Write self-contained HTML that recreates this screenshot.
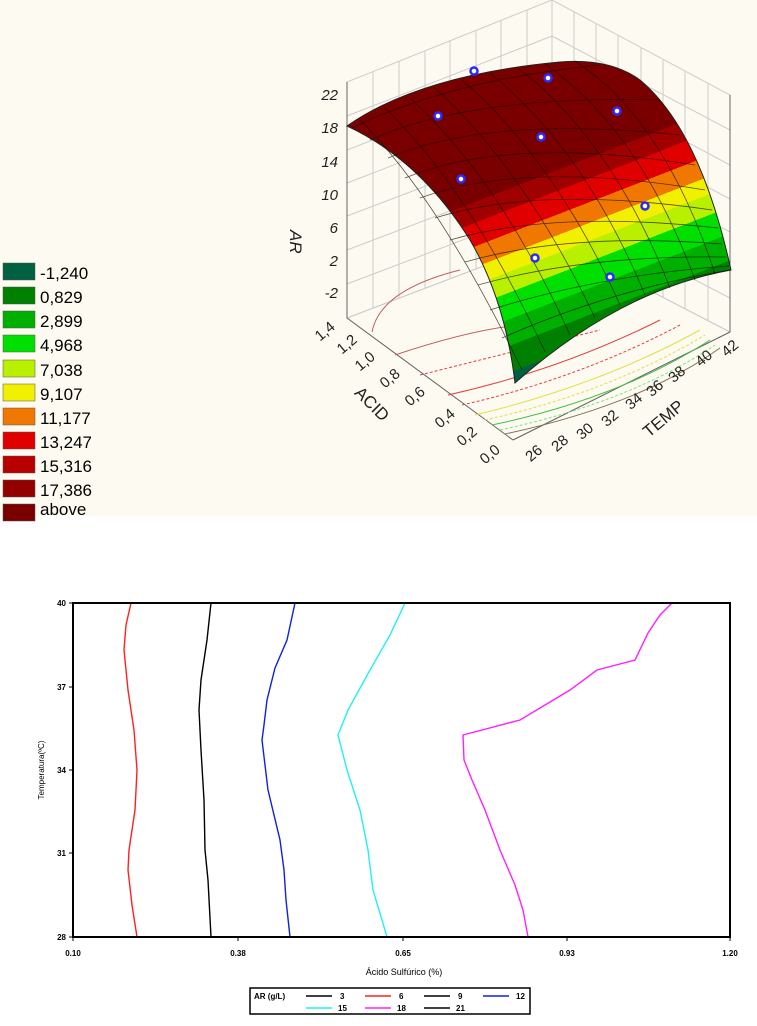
<!DOCTYPE html>
<html><head><meta charset="utf-8"><style>
html,body{margin:0;padding:0;background:#fff;}
body{width:757px;height:1026px;position:relative;overflow:hidden;font-family:"Liberation Sans",sans-serif;}
</style></head><body>
<svg width="757" height="1026" viewBox="0 0 757 1026" xmlns="http://www.w3.org/2000/svg" style="position:absolute;left:0;top:0">
<rect x="0" y="0" width="757" height="516" fill="#fdfbf1"/>
<g font-family="Liberation Sans, sans-serif" font-size="17" fill="#000">
<rect x="3" y="263" width="32" height="17" fill="#006040" stroke="#555" stroke-width="0.5"/><text x="40" y="279">-1,240</text>
<rect x="3" y="287" width="32" height="17" fill="#008000" stroke="#555" stroke-width="0.5"/><text x="40" y="303">0,829</text>
<rect x="3" y="311" width="32" height="17" fill="#00b000" stroke="#555" stroke-width="0.5"/><text x="40" y="327">2,899</text>
<rect x="3" y="335" width="32" height="17" fill="#00e000" stroke="#555" stroke-width="0.5"/><text x="40" y="351">4,968</text>
<rect x="3" y="360" width="32" height="17" fill="#b8f000" stroke="#555" stroke-width="0.5"/><text x="40" y="376">7,038</text>
<rect x="3" y="384" width="32" height="17" fill="#f0f000" stroke="#555" stroke-width="0.5"/><text x="40" y="400">9,107</text>
<rect x="3" y="408" width="32" height="17" fill="#f07800" stroke="#555" stroke-width="0.5"/><text x="40" y="424">11,177</text>
<rect x="3" y="432" width="32" height="17" fill="#e00000" stroke="#555" stroke-width="0.5"/><text x="40" y="448">13,247</text>
<rect x="3" y="456" width="32" height="17" fill="#b80000" stroke="#555" stroke-width="0.5"/><text x="40" y="472">15,316</text>
<rect x="3" y="480" width="32" height="17" fill="#940000" stroke="#555" stroke-width="0.5"/><text x="40" y="496">17,386</text>
<rect x="3" y="504" width="32" height="17" fill="#7a0000" stroke="#555" stroke-width="0.5"/><text x="40" y="515">above</text>
</g>
<g stroke="#ccc" stroke-width="1" fill="none">
<polygon points="347,82 552,0 552,240 347,318"/>
<polygon points="552,0 730,95 730,332 552,240"/>
<line x1="347" y1="116" x2="552" y2="36"/><line x1="347" y1="150" x2="552" y2="70"/><line x1="347" y1="183" x2="552" y2="104"/><line x1="347" y1="216" x2="552" y2="138"/><line x1="347" y1="250" x2="552" y2="172"/><line x1="347" y1="284" x2="552" y2="206"/>
<line x1="552" y1="36" x2="730" y2="130"/><line x1="552" y1="70" x2="730" y2="165"/><line x1="552" y1="104" x2="730" y2="199"/><line x1="552" y1="138" x2="730" y2="232"/><line x1="552" y1="172" x2="730" y2="265"/><line x1="552" y1="206" x2="730" y2="298"/>
<line x1="373" y1="72" x2="373" y2="308"/><line x1="399" y1="61" x2="399" y2="298"/><line x1="425" y1="51" x2="425" y2="288"/><line x1="450" y1="41" x2="450" y2="279"/><line x1="476" y1="31" x2="476" y2="269"/><line x1="501" y1="20" x2="501" y2="259"/><line x1="527" y1="10" x2="527" y2="250"/>
<line x1="574" y1="12" x2="574" y2="251"/><line x1="596" y1="24" x2="596" y2="263"/><line x1="618" y1="36" x2="618" y2="274"/><line x1="641" y1="48" x2="641" y2="286"/><line x1="663" y1="60" x2="663" y2="297"/><line x1="685" y1="72" x2="685" y2="309"/><line x1="708" y1="84" x2="708" y2="320"/>
<polygon points="347,318 552,240 730,332 513,440"/>
</g>
<g stroke="#666" stroke-width="1" fill="none"><line x1="347" y1="82" x2="347" y2="318"/><line x1="347" y1="318" x2="513" y2="440"/><line x1="513" y1="440" x2="730" y2="332"/><line x1="730" y1="95" x2="730" y2="332"/></g>
<g fill="none" stroke-width="1">
<path d="M372,332 Q380,290 460,270" stroke="#c06060"/>
<path d="M395,355 Q470,330 520,325" stroke="#c06060"/>
<path d="M420,375 Q520,350 600,330" stroke="#e04040" stroke-dasharray="3,2"/>
<path d="M448,395 Q560,370 660,320" stroke="#e04040"/>
<path d="M462,405 Q580,378 680,325" stroke="#e04040" stroke-dasharray="3,2"/>
<path d="M475,415 Q600,385 700,330" stroke="#e0e040"/>
<path d="M485,420 Q610,392 705,335" stroke="#e0e040" stroke-dasharray="3,2"/>
<path d="M492,425 Q620,398 710,340" stroke="#40c040"/>
<path d="M500,430 Q630,402 715,345" stroke="#80e080" stroke-dasharray="3,2"/>
<path d="M505,434 Q640,405 720,348" stroke="#807050"/>
</g>
<defs>
<linearGradient id="sg" gradientUnits="userSpaceOnUse" x1="560" y1="80" x2="660" y2="338">
<stop offset="0" stop-color="#7a0000"/><stop offset="0.30" stop-color="#7a0000"/>
<stop offset="0.30" stop-color="#a00000"/><stop offset="0.37" stop-color="#a00000"/>
<stop offset="0.37" stop-color="#e00000"/><stop offset="0.45" stop-color="#e00000"/>
<stop offset="0.45" stop-color="#f07800"/><stop offset="0.52" stop-color="#f07800"/>
<stop offset="0.52" stop-color="#f0f000"/><stop offset="0.58" stop-color="#f0f000"/>
<stop offset="0.58" stop-color="#b8f000"/><stop offset="0.65" stop-color="#b8f000"/>
<stop offset="0.65" stop-color="#00e000"/><stop offset="0.74" stop-color="#00e000"/>
<stop offset="0.74" stop-color="#00b000"/><stop offset="0.83" stop-color="#00b000"/>
<stop offset="0.83" stop-color="#008000"/><stop offset="0.92" stop-color="#008000"/>
<stop offset="0.92" stop-color="#006040"/><stop offset="1" stop-color="#006040"/>
</linearGradient>
</defs>
<path d="M347,126 Q420,75 560,62 Q610,58 640,80 Q700,130 731,270 Q620,290 515,383 Q505,300 470,240 Q420,160 347,126 Z" fill="url(#sg)" stroke="#222" stroke-width="1"/>
<g stroke="#1a0a00" stroke-width="0.8" fill="none" opacity="0.7">
<path d="M360,120 Q440,200 522,370"/><path d="M385,108 Q470,190 545,352"/><path d="M410,98 Q500,180 570,335"/><path d="M435,88 Q525,170 595,318"/><path d="M462,80 Q555,160 620,305"/><path d="M490,73 Q585,150 645,295"/><path d="M518,68 Q612,140 670,288"/><path d="M545,64 Q640,130 695,280"/><path d="M575,61 Q665,120 715,274"/>
<path d="M352,128 Q450,80 600,65"/><path d="M370,140 Q470,95 660,100"/><path d="M388,158 Q490,115 680,135"/><path d="M405,178 Q510,135 695,165"/><path d="M420,198 Q525,160 705,190"/><path d="M435,218 Q540,185 712,210"/><path d="M450,240 Q555,210 718,228"/><path d="M465,262 Q570,232 722,244"/><path d="M478,285 Q585,255 726,257"/><path d="M490,310 Q600,275 729,266"/><path d="M502,338 Q610,290 730,270"/>
</g>
<g fill="#fff" stroke="#2a2aff" stroke-width="2.5">
<circle cx="474" cy="71" r="3.5"/><circle cx="548" cy="78" r="3.5"/><circle cx="438" cy="116" r="3.5"/><circle cx="617" cy="111" r="3.5"/><circle cx="541" cy="137" r="3.5"/><circle cx="461" cy="179" r="3.5"/><circle cx="645" cy="206" r="3.5"/><circle cx="535" cy="258" r="3.5"/><circle cx="610" cy="277" r="3.5"/>
</g>
<g font-family="Liberation Sans, sans-serif" font-size="15" fill="#222" font-style="italic">
<text x="338" y="100" text-anchor="end">22</text><text x="338" y="133" text-anchor="end">18</text><text x="338" y="167" text-anchor="end">14</text><text x="338" y="200" text-anchor="end">10</text><text x="338" y="233" text-anchor="end">6</text><text x="338" y="266" text-anchor="end">2</text><text x="338" y="298" text-anchor="end">-2</text>
<text transform="translate(290,230) rotate(90)" font-size="17">AR</text>
</g>
<g font-family="Liberation Sans, sans-serif" font-size="15" fill="#222" text-anchor="middle">
<text transform="translate(328,335) rotate(-40)">1,4</text><text transform="translate(350,348) rotate(-40)">1,2</text><text transform="translate(368,365) rotate(-40)">1,0</text><text transform="translate(393,382) rotate(-40)">0,8</text><text transform="translate(418,400) rotate(-40)">0,6</text><text transform="translate(448,422) rotate(-40)">0,4</text><text transform="translate(470,440) rotate(-40)">0,2</text><text transform="translate(493,458) rotate(-40)">0,0</text>
<text transform="translate(368,408) rotate(45)" font-size="17">ACID</text>
<text transform="translate(537,457) rotate(-40)">26</text><text transform="translate(563,447) rotate(-40)">28</text><text transform="translate(588,435) rotate(-40)">30</text><text transform="translate(613,422) rotate(-40)">32</text><text transform="translate(637,405) rotate(-40)">34</text><text transform="translate(658,392) rotate(-40)">36</text><text transform="translate(680,378) rotate(-40)">38</text><text transform="translate(707,362) rotate(-40)">40</text><text transform="translate(733,352) rotate(-40)">42</text>
<text transform="translate(667,423) rotate(-40)" font-size="17">TEMP</text>
</g>
<g fill="none" stroke-width="1.4">
<path d="M131,603 L126,625 L124,650 L128,690 L134,730 L137,770 L135,810 L129,850 L128,870 L132,905 L137,937" stroke="#ff2020"/>
<path d="M211,603 L207,640 L201,680 L199,710 L201,750 L204,800 L205,850 L208,880 L211,937" stroke="#000"/>
<path d="M295,603 L287,640 L275,668 L267,700 L264,725 L262,740 L268,790 L280,840 L284,870 L286,900 L290,937" stroke="#1020e0"/>
<path d="M405,603 L390,635 L370,670 L348,710 L338,735 L347,770 L360,810 L368,850 L373,890 L387,937" stroke="#20f0f0"/>
<path d="M672,603 L660,615 L648,633 L635,660 L597,670 L570,690 L545,705 L520,720 L463,735 L464,760 L472,780 L485,810 L500,850 L515,885 L523,910 L528,937" stroke="#ff20ff"/>
</g>
<rect x="73" y="603" width="657" height="334" fill="none" stroke="#000" stroke-width="2"/>
<g stroke="#000" stroke-width="1">
<line x1="73" y1="937" x2="73" y2="941"/><line x1="238" y1="937" x2="238" y2="941"/><line x1="403" y1="937" x2="403" y2="941"/><line x1="567" y1="937" x2="567" y2="941"/><line x1="730" y1="937" x2="730" y2="941"/>
<line x1="69" y1="603" x2="73" y2="603"/><line x1="69" y1="687" x2="73" y2="687"/><line x1="69" y1="770" x2="73" y2="770"/><line x1="69" y1="853" x2="73" y2="853"/><line x1="69" y1="937" x2="73" y2="937"/>
</g>
<g font-family="Liberation Sans, sans-serif" font-size="8" font-weight="bold" fill="#000">
<text x="73" y="956" text-anchor="middle">0.10</text><text x="238" y="956" text-anchor="middle">0.38</text><text x="403" y="956" text-anchor="middle">0.65</text><text x="567" y="956" text-anchor="middle">0.93</text><text x="730" y="956" text-anchor="middle">1.20</text>
<text x="66" y="606" text-anchor="end">40</text><text x="66" y="690" text-anchor="end">37</text><text x="66" y="773" text-anchor="end">34</text><text x="66" y="856" text-anchor="end">31</text><text x="66" y="940" text-anchor="end">28</text>
<text x="404" y="975" text-anchor="middle" font-weight="normal" font-size="9">Ácido Sulfúrico (%)</text>
<text transform="translate(44,770) rotate(-90)" text-anchor="middle" font-weight="normal" font-size="8">Temperatura(ºC)</text>
</g>
<rect x="250" y="988" width="280" height="26" fill="#fff" stroke="#000" stroke-width="1.5"/>
<g font-family="Liberation Sans, sans-serif" font-size="8" font-weight="bold" fill="#000">
<text x="254" y="999">AR (g/L)</text>
<line x1="306" y1="996" x2="332" y2="996" stroke="#000" stroke-width="1.5"/><text x="340" y="999">3</text>
<line x1="365" y1="996" x2="391" y2="996" stroke="#ff2020" stroke-width="1.5"/><text x="399" y="999">6</text>
<line x1="424" y1="996" x2="450" y2="996" stroke="#000" stroke-width="1.5"/><text x="458" y="999">9</text>
<line x1="483" y1="996" x2="509" y2="996" stroke="#1020e0" stroke-width="1.5"/><text x="516" y="999">12</text>
<line x1="306" y1="1008" x2="332" y2="1008" stroke="#20f0f0" stroke-width="1.5"/><text x="338" y="1011">15</text>
<line x1="365" y1="1008" x2="391" y2="1008" stroke="#ff20ff" stroke-width="1.5"/><text x="397" y="1011">18</text>
<line x1="424" y1="1008" x2="450" y2="1008" stroke="#000" stroke-width="1.5"/><text x="456" y="1011">21</text>
</g>
</svg>
</body></html>
